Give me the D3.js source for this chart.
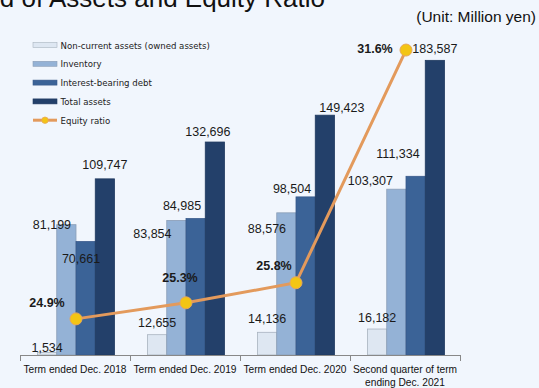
<!DOCTYPE html>
<html>
<head>
<meta charset="utf-8">
<script src="https://cdn.jsdelivr.net/npm/d3@7/dist/d3.min.js"></script>
<style>
  html, body { margin: 0; padding: 0; background: #F1F6FD; }
  svg { display: block; }
</style>
</head>
<body>
<svg id="chart" width="539" height="388"></svg>
<script>
// Categories (terms)
const categories = [
  "Term ended Dec. 2018",
  "Term ended Dec. 2019",
  "Term ended Dec. 2020",
  "Second quarter of term ending Dec. 2021"
];
const categoryLines = [
  ["Term ended Dec. 2018"],
  ["Term ended Dec. 2019"],
  ["Term ended Dec. 2020"],
  ["Second quarter of term", "ending Dec. 2021"]
];

// Series values (million yen)
const nonCurrentAssets = [1534, 12655, 14136, 16182];
const inventory = [81199, 83854, 88576, 103307];
const interestBearingDebt = [70661, 84985, 98504, 111334];
const totalAssets = [109747, 132696, 149423, 183587];

// Equity ratio (%)
const equityRatio = [24.9, 25.3, 25.8, 31.6];

const seriesNames = [
  "Non-current assets (owned assets)",
  "Inventory",
  "Interest-bearing debt",
  "Total assets"
];
const seriesValues = [nonCurrentAssets, inventory, interestBearingDebt, totalAssets];
const lineName = "Equity ratio";

// Styling
const fills = ["#DEE7F2", "#94B2D6", "#3B6397", "#23406A"];
const strokes = ["#A9B3BF", "#8A9DB6", "#37598A", "#203A60"];

// Label nudges relative to the top-centre of each bar [dx, dy]
const barLabelNudge = [
  [[0, -0.5], [0, -7.7], [0, -9.3], [0, -7]],
  [[-14.4, 4.3], [-24, 18], [-19.4, 20], [-26, -4]],
  [[-4.6, 21.4], [-13.6, -8.6], [-13.6, -3.9], [-17.6, -18.3]],
  [[0, -10], [-7, -6], [17, -3], [0, -7]]
];
const ratioLabelNudge = [[-29, -12], [-6, -21], [-22, -13], [-31, 3]];

const svg = d3.select("#chart");
const fmt = d3.format(",");

const x = d3.scaleBand().domain(categories).range([20, 460]).padding(0);
const xi = d3.scaleBand().domain(d3.range(seriesNames.length)).range([17.5, 94.5]).padding(0);
const y = d3.scaleLinear().domain([0, 200000]).range([355, 34]);
const y2 = d3.scaleLinear().domain([24, 32]).range([355, 34]);

// Title (runs off the top edge)
svg.append("text")
  .attr("x", 325).attr("y", 7)
  .attr("text-anchor", "end")
  .attr("font-family", "Liberation Sans, Arial, sans-serif")
  .attr("font-size", 26)
  .attr("fill", "#111")
  .text("Trend of Assets and Equity Ratio");

svg.append("text")
  .attr("x", 536).attr("y", 22)
  .attr("text-anchor", "end")
  .attr("font-family", "Liberation Sans, Arial, sans-serif")
  .attr("font-size", 15.5)
  .attr("fill", "#111")
  .text("(Unit: Million yen)");

// Bars
seriesValues.forEach((vals, s) => {
  svg.append("g").selectAll("rect")
    .data(vals)
    .join("rect")
    .attr("x", (d, i) => x(categories[i]) + xi(s))
    .attr("y", d => y(d))
    .attr("width", xi.bandwidth())
    .attr("height", d => y(0) - y(d))
    .attr("fill", fills[s])
    .attr("stroke", strokes[s])
    .attr("stroke-width", 0.8);
});

// Axis
const axis = d3.axisBottom(x).tickSize(6).tickFormat("");
const gAxis = svg.append("g").attr("transform", `translate(0,${y(0)})`).call(axis);
gAxis.select(".domain").attr("stroke", "#888").attr("d", "M20.5,6V0.5H460.5V6");
gAxis.selectAll(".tick").remove();
const edges = [0, 1, 2, 3, 4].map(i => 20 + i * x.bandwidth());
gAxis.selectAll("line.edge").data(edges).join("line")
  .attr("class", "edge")
  .attr("x1", d => d + 0.5).attr("x2", d => d + 0.5)
  .attr("y1", 0).attr("y2", 6)
  .attr("stroke", "#888");

// Category labels
categories.forEach((c, i) => {
  const t = svg.append("text")
    .attr("x", x(c) + x.bandwidth() / 2)
    .attr("y", 373)
    .attr("text-anchor", "middle")
    .attr("font-family", "Liberation Sans, Arial, sans-serif")
    .attr("font-size", 10.2)
    .attr("fill", "#111");
  categoryLines[i].forEach((ln, k) => {
    t.append("tspan")
      .attr("x", x(c) + x.bandwidth() / 2)
      .attr("dy", k === 0 ? 0 : 13)
      .text(ln);
  });
});

// Bar value labels
seriesValues.forEach((vals, s) => {
  svg.append("g").selectAll("text")
    .data(vals)
    .join("text")
    .attr("x", (d, i) => x(categories[i]) + xi(s) + xi.bandwidth() / 2 + barLabelNudge[s][i][0])
    .attr("y", (d, i) => y(d) + barLabelNudge[s][i][1])
    .attr("text-anchor", "middle")
    .attr("font-family", "Liberation Sans, Arial, sans-serif")
    .attr("font-size", 12.5)
    .attr("fill", "#1a1a1a")
    .text(d => fmt(d));
});

// Equity ratio line
const cx = i => x(categories[i]) + 17.5 + (94.5 - 17.5) / 2;
const line = d3.line().x((d, i) => cx(i)).y(d => y2(d));
svg.append("path")
  .datum(equityRatio)
  .attr("d", line)
  .attr("fill", "none")
  .attr("stroke", "#E39A5C")
  .attr("stroke-width", 3);
svg.append("g").selectAll("circle")
  .data(equityRatio)
  .join("circle")
  .attr("cx", (d, i) => cx(i))
  .attr("cy", d => y2(d))
  .attr("r", 6)
  .attr("fill", "#F3C514")
  .attr("stroke", "#E8A85A")
  .attr("stroke-width", 1);

svg.append("g").selectAll("text")
  .data(equityRatio)
  .join("text")
  .attr("x", (d, i) => cx(i) + ratioLabelNudge[i][0])
  .attr("y", (d, i) => y2(d) + ratioLabelNudge[i][1])
  .attr("text-anchor", "middle")
  .attr("font-family", "Liberation Sans, Arial, sans-serif")
  .attr("font-size", 12.5)
  .attr("font-weight", "bold")
  .attr("fill", "#1a1a1a")
  .text(d => d.toFixed(1) + "%");

// Legend
const legend = svg.append("g").attr("transform", "translate(33,45)");
const rowH = 18.8;
seriesNames.forEach((n, s) => {
  const g = legend.append("g").attr("transform", `translate(0,${s * rowH})`);
  g.append("rect")
    .attr("x", 0).attr("y", -2.5).attr("width", 24).attr("height", 5)
    .attr("fill", fills[s]).attr("stroke", strokes[s]).attr("stroke-width", 0.6);
  g.append("text")
    .attr("x", 27.5).attr("y", 3.5)
    .attr("font-family", "DejaVu Sans, Verdana, sans-serif")
    .attr("font-size", 8.6)
    .attr("fill", "#222")
    .text(n);
});
const lg = legend.append("g").attr("transform", `translate(0,${4 * rowH})`);
lg.append("line").attr("x1", 0).attr("x2", 24).attr("y1", 0).attr("y2", 0)
  .attr("stroke", "#E39A5C").attr("stroke-width", 3);
lg.append("circle").attr("cx", 12).attr("cy", 0).attr("r", 3.2)
  .attr("fill", "#F3C514").attr("stroke", "#E8A85A").attr("stroke-width", 0.8);
lg.append("text")
  .attr("x", 27.5).attr("y", 3.5)
  .attr("font-family", "DejaVu Sans, Verdana, sans-serif")
  .attr("font-size", 8.6)
  .attr("fill", "#222")
  .text(lineName);
</script>
</body>
</html>
